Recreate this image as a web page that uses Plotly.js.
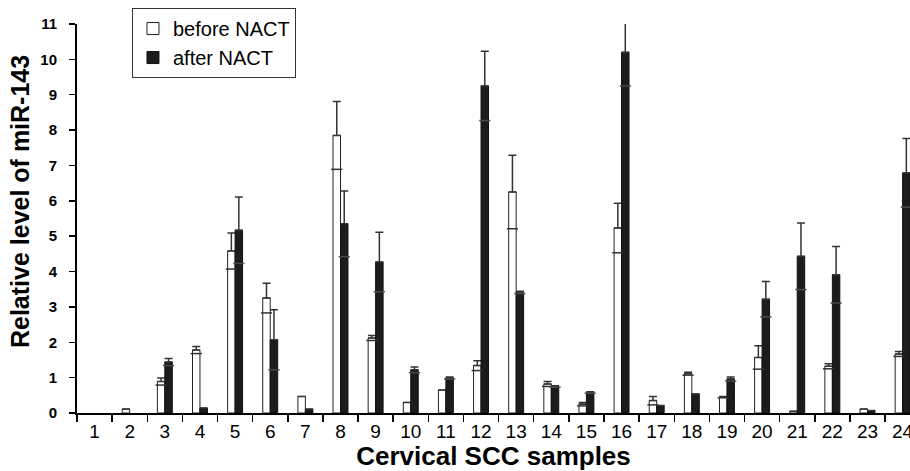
<!DOCTYPE html>
<html>
<head>
<meta charset="utf-8">
<script src="https://cdn.plot.ly/plotly-3.0.1.min.js"></script>
<style>html,body{margin:0;padding:0;background:#fff;}#chart{width:910px;height:471px;}</style>
</head>
<body>
<div id="chart"></div>
<script>
var samples = ['1','2','3','4','5','6','7','8','9','10','11','12','13','14','15','16','17','18','19','20','21','22','23','24'];
var beforeNACT = [0, 0.11, 0.89, 1.78, 4.58, 3.25, 0.47, 7.85, 2.12, 0.30, 0.65, 1.34, 6.25, 0.82, 0.25, 5.23, 0.35, 1.11, 0.45, 1.57, 0.05, 1.32, 0.11, 1.67];
var beforeErr  = [0, 0, 0.10, 0.10, 0.51, 0.42, 0, 0.96, 0.07, 0, 0, 0.14, 1.04, 0.07, 0.05, 0.70, 0.12, 0.04, 0.02, 0.33, 0, 0.07, 0, 0.07];
var afterNACT  = [0, 0, 1.44, 0.14, 5.17, 2.07, 0.11, 5.35, 4.27, 1.22, 0.99, 9.25, 3.41, 0.75, 0.58, 10.2, 0.21, 0.54, 0.96, 3.22, 4.43, 3.91, 0.07, 6.79];
var afterErr   = [0, 0, 0.10, 0, 0.94, 0.85, 0, 0.93, 0.84, 0.08, 0.03, 0.98, 0.03, 0.02, 0.02, 0.95, 0, 0, 0.06, 0.50, 0.94, 0.80, 0, 0.97];
var yTitle = 'Relative level of miR-143';
var xTitle = 'Cervical SCC samples';

var FONT = 'Liberation Sans, Arial, sans-serif';
var errStyle = {type: 'data', symmetric: false, color: '#333', thickness: 1.5, width: 4};

function nz(vals) { return vals.map(function (v) { return v > 0 ? v : null; }); }
function zeros(vals) { return vals.map(function () { return 0; }); }
function lowerCaps(vals, errs) {
  return vals.map(function (v, i) { return errs[i] > 0 ? v - errs[i] : null; });
}

var traces = [
  {
    type: 'bar', name: 'before NACT', x: samples, y: nz(beforeNACT), offsetgroup: 'b',
    marker: {color: '#ffffff', line: {color: '#222', width: 1}},
    error_y: Object.assign({array: beforeErr, arrayminus: zeros(beforeNACT)}, errStyle)
  },
  {
    type: 'bar', name: 'after NACT', x: samples, y: nz(afterNACT), offsetgroup: 'a',
    marker: {color: '#1c1c1c', line: {color: '#111', width: 1}},
    error_y: Object.assign({array: afterErr, arrayminus: zeros(afterNACT)}, errStyle)
  },
  {
    type: 'scatter', mode: 'markers', x: samples, y: lowerCaps(beforeNACT, beforeErr), offsetgroup: 'b',
    showlegend: false, hoverinfo: 'skip',
    marker: {symbol: 'line-ew', size: 8, line: {color: '#333', width: 1.5}}
  },
  {
    type: 'scatter', mode: 'markers', x: samples, y: lowerCaps(afterNACT, afterErr), offsetgroup: 'a',
    showlegend: false, hoverinfo: 'skip',
    marker: {symbol: 'line-ew', size: 8, line: {color: '#4a4a4a', width: 1.5}}
  }
];

var layout = {
  width: 910, height: 471,
  margin: {l: 77, r: 0, t: 24, b: 58},
  paper_bgcolor: '#fff', plot_bgcolor: '#fff',
  barmode: 'group', bargap: 0.575, bargroupgap: 0,
  scattermode: 'group', scattergap: 0.575,
  showlegend: true,
  legend: {
    x: 0.066, y: 1.041, xanchor: 'left', yanchor: 'top',
    bgcolor: '#fff', bordercolor: '#333', borderwidth: 1,
    font: {family: FONT, size: 20, color: '#000'},
    itemwidth: 30, tracegroupgap: 0
  },
  xaxis: {
    type: 'category', range: [-0.5, 23.21],
    tickson: 'boundaries', ticks: 'outside', ticklen: 7, tickwidth: 1.5, tickcolor: '#000',
    showline: true, linecolor: '#000', linewidth: 2, showgrid: false, zeroline: false,
    tickfont: {family: FONT, size: 19, color: '#000'},
    title: {text: xTitle, font: {family: FONT, size: 26, color: '#000', weight: 'bold'}, standoff: 0}
  },
  yaxis: {
    range: [0, 11], dtick: 1, tick0: 0,
    ticks: 'outside', ticklen: 6, tickwidth: 1.5, tickcolor: '#000',
    showline: true, linecolor: '#000', linewidth: 2, showgrid: false, zeroline: false,
    tickfont: {family: FONT, size: 15, color: '#000', weight: 'bold'},
    ticklabelstandoff: 9
  },
  annotations: [{
    text: yTitle, xref: 'paper', yref: 'paper', x: -0.0684, y: 0.5424,
    xanchor: 'center', yanchor: 'middle', textangle: -90, showarrow: false,
    font: {family: FONT, size: 25, color: '#000', weight: 'bold'}
  }]
};

Plotly.newPlot('chart', traces, layout, {staticPlot: true, displayModeBar: false});
</script>
</body>
</html>
